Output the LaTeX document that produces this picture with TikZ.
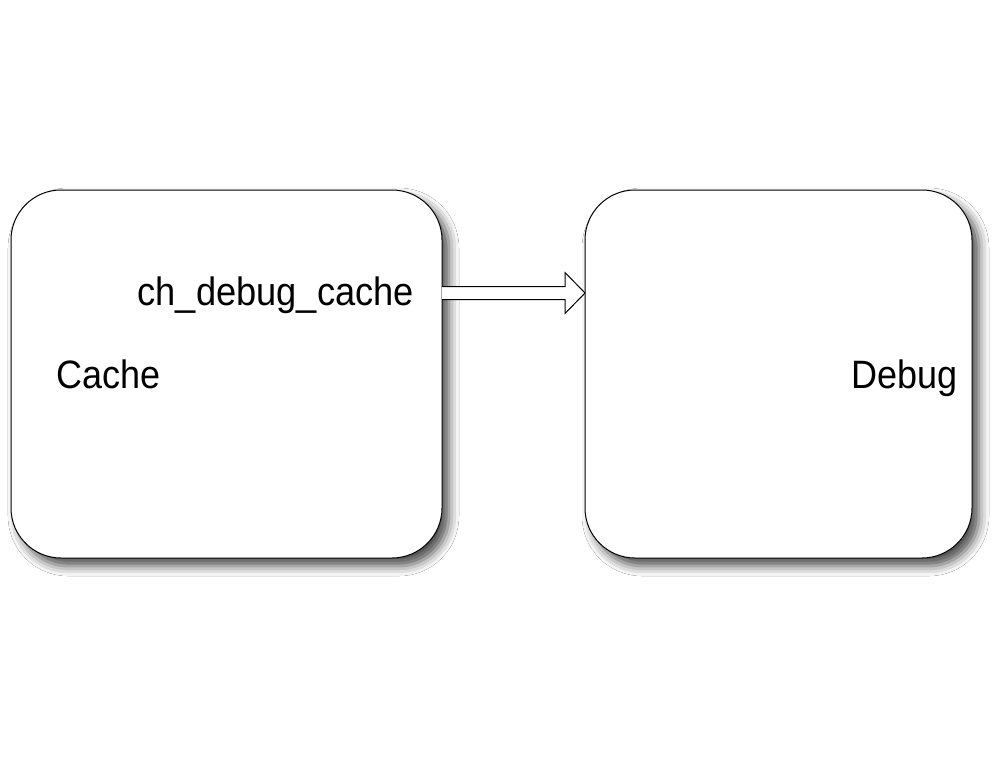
\documentclass[tikz,border=0pt]{standalone}
\usepackage{fontspec}
\setmainfont{Liberation Sans}
\usetikzlibrary{shadows.blur,calc}
\tikzset{
  box/.style={draw=black, line width=1pt, rounded corners=50pt, fill=white,
    minimum height=368pt, inner sep=0pt, outer sep=0pt,
    blur shadow={shadow xshift=7pt, shadow yshift=-8pt, shadow blur radius=10pt, shadow opacity=70}},
  lbl/.style={font=\fontsize{36}{40}\selectfont, inner sep=0pt, text=black},
  arrowst/.style={draw=black, line width=1pt, fill=white, line join=miter}
}
\begin{document}
\begin{tikzpicture}[x=1pt,y=-1pt]
\useasboundingbox[fill=white] (0,0) rectangle (999,764);
\node[box, minimum width=431pt] (cache) at (226.5,374) {};
\node[box, minimum width=387pt] (debug) at (778.5,374) {};
\path (cache.east) ++(0,-81) coordinate (as);
\path (debug.west) ++(0,-81) coordinate (ae);
\draw[arrowst] ($(as)+(0,-6.5)$) -- ($(ae)+(-20,-6.5)$) -- ($(ae)+(-20,-20.5)$) -- (ae)
  -- ($(ae)+(-20,20.5)$) -- ($(ae)+(-20,6.5)$) -- ($(as)+(0,6.5)$);
\node[lbl, anchor=base east] (lab) at (414,305) {\scalebox{1.007}[1.1]{ch\_debug\_cache}};
\node[lbl, anchor=base west] (tcache) at (56,388) {\scalebox{1}[1.1]{Cache}};
\node[lbl, anchor=base east] (tdebug) at (958,388) {\scalebox{1}[1.1]{Debug}};
\end{tikzpicture}
\end{document}
